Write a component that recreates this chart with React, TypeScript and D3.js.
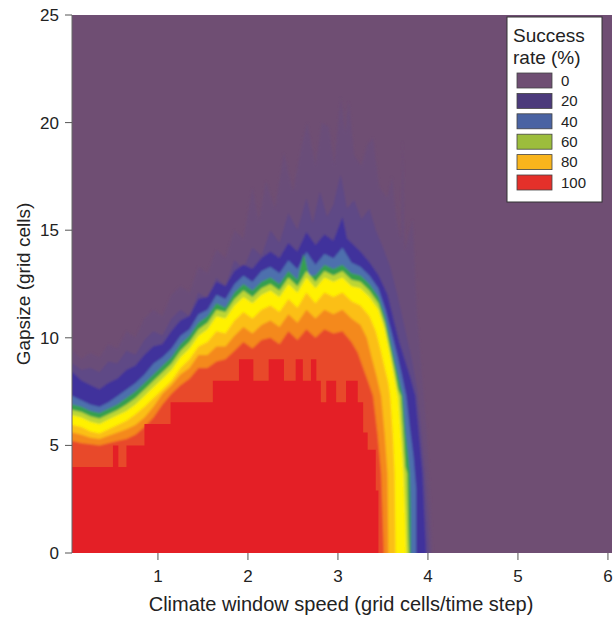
import React from 'react'
import * as d3 from 'd3'

// axis ticks
const xTicks = [1, 2, 3, 4, 5, 6]
const yTicks = [0, 5, 10, 15, 20, 25]

// legend
const legendLabels = ['0', '20', '40', '60', '80', '100']
const legendColors = ['#6f4e73', '#4b3a7b', '#4a63a3', '#9cbd3c', '#f8b41c', '#e4302a']

// contour levels (success rate %), drawn from the outside in
const levelValues = [3, 10, 20, 35, 50, 60, 70, 80, 90, 96]
const levelColors = ['#6a4d79', '#5e4886', '#40309c', '#4d6fad', '#36a04e', '#bcd536', '#fff100', '#fbbf19', '#f4891f', '#e84a2a']

// fronts: [speed, gapsize] where the success rate drops below each level
const front3 = [[0.05, 9.4], [0.15, 9.0], [0.25, 9.3], [0.35, 9.1], [0.45, 9.7], [0.55, 9.5], [0.65, 10.3], [0.75, 10.0], [0.85, 10.9], [0.95, 11.3], [1.05, 11.0], [1.15, 12.0], [1.25, 12.4], [1.35, 12.1], [1.45, 13.3], [1.55, 13.0], [1.65, 14.1], [1.75, 13.7], [1.85, 15.0], [1.95, 14.6], [2.05, 17.0], [2.12, 15.4], [2.2, 17.3], [2.3, 16.0], [2.4, 18.6], [2.5, 16.8], [2.6, 19.0], [2.66, 20.0], [2.75, 18.0], [2.82, 20.0], [2.9, 19.8], [2.96, 18.0], [3.03, 21.2], [3.08, 19.5], [3.12, 21.0], [3.18, 18.5], [3.26, 18.0], [3.33, 19.0], [3.39, 19.3], [3.46, 17.0], [3.55, 16.5], [3.6, 17.5], [3.65, 15.5], [3.7, 14.5], [3.72, 19.2], [3.74, 14.0], [3.83, 15.5], [3.88, 11.0], [3.93, 8.5], [3.98, 6.0], [4.02, 3.0], [4.05, 0]]
const front10 = [[0.05, 8.8], [0.15, 8.5], [0.25, 8.6], [0.35, 8.4], [0.45, 8.9], [0.55, 8.8], [0.65, 9.4], [0.75, 9.2], [0.85, 9.9], [0.95, 10.3], [1.05, 10.1], [1.15, 10.9], [1.25, 11.3], [1.35, 11.0], [1.45, 12.1], [1.55, 11.8], [1.65, 12.8], [1.75, 12.4], [1.85, 13.6], [1.95, 13.2], [2.05, 14.2], [2.15, 13.8], [2.25, 15.0], [2.35, 14.4], [2.45, 15.8], [2.55, 15.0], [2.65, 16.5], [2.72, 15.3], [2.8, 16.8], [2.88, 15.6], [2.95, 16.2], [3.03, 17.6], [3.1, 16.0], [3.18, 16.4], [3.26, 15.5], [3.35, 16.0], [3.42, 15.0], [3.5, 14.2], [3.58, 13.3], [3.66, 12.0], [3.74, 10.5], [3.82, 9.0], [3.88, 7.6], [3.93, 5.5], [3.97, 3.5], [4.0, 1.5], [4.02, 0]]
const front20 = [[0.05, 8.4], [0.15, 8.0], [0.25, 7.8], [0.35, 7.6], [0.45, 7.9], [0.55, 8.1], [0.65, 8.5], [0.75, 8.7], [0.85, 9.2], [0.95, 9.6], [1.05, 9.7], [1.15, 10.3], [1.25, 10.8], [1.35, 11.0], [1.45, 11.8], [1.55, 11.9], [1.65, 12.6], [1.75, 12.4], [1.85, 13.1], [1.95, 13.4], [2.05, 13.2], [2.15, 13.7], [2.25, 14.0], [2.35, 13.7], [2.45, 14.4], [2.55, 14.0], [2.65, 14.9], [2.75, 14.3], [2.85, 14.8], [2.95, 14.5], [3.05, 15.6], [3.1, 14.6], [3.15, 14.4], [3.25, 14.0], [3.35, 13.5], [3.45, 12.9], [3.55, 12.0], [3.62, 10.8], [3.68, 9.8], [3.74, 9.0], [3.8, 8.2], [3.86, 7.3], [3.9, 5.5], [3.94, 3.7], [3.96, 1.8], [3.98, 0]]
const front35 = [[0.05, 7.3], [0.15, 7.1], [0.25, 6.9], [0.35, 6.8], [0.45, 7.0], [0.55, 7.3], [0.65, 7.6], [0.75, 7.9], [0.85, 8.3], [0.95, 8.8], [1.05, 9.1], [1.15, 9.5], [1.25, 10.1], [1.35, 10.4], [1.45, 11.1], [1.55, 11.3], [1.65, 12.0], [1.75, 11.8], [1.85, 12.5], [1.95, 12.9], [2.05, 12.6], [2.15, 13.1], [2.25, 13.3], [2.35, 13.0], [2.45, 13.6], [2.55, 13.2], [2.65, 14.0], [2.75, 13.4], [2.85, 13.9], [2.95, 13.7], [3.05, 14.2], [3.15, 13.5], [3.25, 13.3], [3.35, 12.9], [3.45, 12.3], [3.53, 11.3], [3.6, 10.2], [3.66, 9.2], [3.71, 8.3], [3.76, 7.3], [3.8, 5.8], [3.84, 4.5], [3.87, 3.0], [3.87, 0]]
const front50 = [[0.05, 6.9], [0.15, 6.8], [0.25, 6.6], [0.35, 6.5], [0.45, 6.7], [0.55, 6.9], [0.65, 7.2], [0.75, 7.5], [0.85, 7.9], [0.95, 8.3], [1.05, 8.7], [1.15, 9.1], [1.25, 9.7], [1.35, 10.1], [1.45, 10.7], [1.55, 11.0], [1.65, 11.6], [1.75, 11.4], [1.85, 12.1], [1.95, 12.5], [2.05, 12.2], [2.15, 12.6], [2.25, 12.8], [2.35, 12.5], [2.45, 13.1], [2.55, 12.7], [2.62, 13.9], [2.68, 12.9], [2.75, 12.9], [2.85, 13.4], [2.95, 13.2], [3.05, 13.4], [3.15, 13.0], [3.25, 12.9], [3.35, 12.5], [3.45, 11.9], [3.52, 11.0], [3.58, 9.9], [3.63, 8.9], [3.68, 8.0], [3.72, 7.3], [3.75, 5.6], [3.78, 4.5], [3.8, 3.7], [3.81, 1.5], [3.81, 0]]
const front60 = [[0.05, 6.65], [0.15, 6.55], [0.25, 6.35], [0.35, 6.25], [0.45, 6.45], [0.55, 6.65], [0.65, 6.9], [0.75, 7.2], [0.85, 7.6], [0.95, 8.0], [1.05, 8.4], [1.15, 8.8], [1.25, 9.4], [1.35, 9.8], [1.45, 10.4], [1.55, 10.7], [1.65, 11.3], [1.75, 11.2], [1.85, 11.8], [1.95, 12.2], [2.05, 11.9], [2.15, 12.3], [2.25, 12.5], [2.35, 12.2], [2.45, 12.8], [2.55, 12.4], [2.65, 13.1], [2.75, 12.6], [2.85, 13.1], [2.95, 12.9], [3.05, 13.1], [3.15, 12.7], [3.25, 12.6], [3.35, 12.2], [3.45, 11.6], [3.52, 10.7], [3.58, 9.5], [3.63, 8.5], [3.67, 7.6], [3.7, 7.3], [3.73, 5.4], [3.75, 4.0], [3.77, 3.7], [3.78, 1.5], [3.79, 0]]
const front70 = [[0.05, 6.4], [0.15, 6.3], [0.25, 6.1], [0.35, 6.0], [0.45, 6.2], [0.55, 6.4], [0.65, 6.6], [0.75, 6.9], [0.85, 7.3], [0.95, 7.7], [1.05, 8.1], [1.15, 8.5], [1.25, 9.1], [1.35, 9.5], [1.45, 10.1], [1.55, 10.4], [1.65, 11.0], [1.75, 10.9], [1.85, 11.5], [1.95, 11.9], [2.05, 11.6], [2.15, 12.0], [2.25, 12.2], [2.35, 11.9], [2.45, 12.5], [2.55, 12.1], [2.65, 12.8], [2.75, 12.3], [2.85, 12.8], [2.95, 12.6], [3.05, 12.8], [3.15, 12.4], [3.25, 12.3], [3.35, 11.9], [3.45, 11.3], [3.52, 10.4], [3.58, 9.2], [3.63, 8.1], [3.67, 7.2], [3.7, 5.5], [3.73, 3.7], [3.75, 1.5], [3.76, 0]]
const front80 = [[0.05, 5.95], [0.15, 5.85], [0.25, 5.65], [0.35, 5.55], [0.45, 5.75], [0.55, 5.95], [0.65, 6.15], [0.75, 6.45], [0.85, 6.8], [0.95, 7.2], [1.05, 7.6], [1.15, 8.0], [1.25, 8.6], [1.35, 9.0], [1.45, 9.6], [1.55, 9.8], [1.65, 10.3], [1.75, 10.2], [1.85, 10.8], [1.95, 11.2], [2.05, 10.9], [2.15, 11.3], [2.25, 11.5], [2.35, 11.2], [2.45, 11.8], [2.55, 11.4], [2.65, 12.1], [2.75, 11.6], [2.85, 12.1], [2.95, 11.9], [3.05, 12.1], [3.15, 11.7], [3.25, 11.5], [3.35, 11.0], [3.42, 10.3], [3.47, 9.5], [3.52, 8.6], [3.56, 7.9], [3.58, 7.3], [3.61, 5.5], [3.63, 3.7], [3.64, 0]]
const front90 = [[0.05, 5.6], [0.15, 5.5], [0.25, 5.35], [0.35, 5.3], [0.45, 5.45], [0.55, 5.6], [0.65, 5.75], [0.75, 5.95], [0.85, 6.3], [0.95, 6.8], [1.05, 7.4], [1.15, 7.8], [1.25, 8.3], [1.35, 8.6], [1.45, 9.2], [1.55, 9.2], [1.65, 9.6], [1.75, 9.6], [1.85, 10.1], [1.95, 10.5], [2.05, 10.2], [2.15, 10.6], [2.25, 10.8], [2.35, 10.5], [2.45, 11.1], [2.55, 10.7], [2.65, 11.3], [2.75, 10.9], [2.85, 11.3], [2.95, 11.1], [3.05, 11.3], [3.15, 10.9], [3.25, 10.6], [3.32, 10.0], [3.38, 9.0], [3.43, 8.2], [3.48, 7.3], [3.52, 5.5], [3.55, 3.7], [3.56, 0]]
const front96 = [[0.05, 5.2], [0.15, 5.1], [0.25, 5.05], [0.35, 5.0], [0.45, 5.1], [0.55, 5.2], [0.65, 5.3], [0.75, 5.5], [0.85, 5.85], [0.95, 6.3], [1.05, 6.9], [1.15, 7.4], [1.25, 7.8], [1.35, 8.1], [1.45, 8.6], [1.55, 8.6], [1.65, 8.9], [1.75, 9.0], [1.85, 9.4], [1.95, 9.8], [2.05, 9.5], [2.15, 9.9], [2.25, 10.0], [2.35, 9.7], [2.45, 10.3], [2.55, 9.9], [2.65, 10.4], [2.75, 10.0], [2.85, 10.4], [2.95, 10.2], [3.05, 10.3], [3.15, 9.8], [3.22, 9.3], [3.28, 8.6], [3.34, 7.9], [3.39, 7.3], [3.44, 5.5], [3.48, 3.7], [3.51, 0]]
// 100% core, blocky (step after each speed)
const core100 = [[0.05, 4], [0.5, 5], [0.56, 4], [0.65, 5], [0.85, 6], [1.14, 7], [1.61, 8], [1.9, 9], [2.06, 8], [2.23, 9], [2.4, 8], [2.53, 9], [2.61, 8], [2.7, 9], [2.76, 8], [2.81, 7], [2.87, 8], [2.98, 7], [3.09, 8], [3.22, 7], [3.28, 5.6], [3.33, 4.8], [3.42, 2.9], [3.45, 0]]

const fronts = [front3, front10, front20, front35, front50, front60, front70, front80, front90, front96]

const W = 614
const H = 617
const FONT = '"Liberation Sans", Arial, Helvetica, sans-serif'

export default function App() {
  const x = d3.scaleLinear().domain([0.045, 6.045]).range([72, 612])
  const y = d3.scaleLinear().domain([0, 25]).range([553, 15])
  // a bit past the plot edges so the soft edges do not fade at the border
  const xOut = x.domain()[0] - 0.2
  const yOut = -1

  const line = d3.line<number[]>().x(d => x(d[0])).y(d => y(d[1]))
  const step = d3.line<number[]>().x(d => x(d[0])).y(d => y(d[1])).curve(d3.curveStepAfter)

  const region = (pts: number[][]) => {
    const last = pts[pts.length - 1]
    const poly = [[xOut, yOut], [xOut, pts[0][1]], ...pts, [last[0], yOut]]
    return line(poly) + 'Z'
  }
  const corePath = step([[xOut, yOut], [xOut, core100[0][1]], ...core100, [core100[core100.length - 1][0], yOut]]) + 'Z'

  const [left, right] = x.range()
  const [bottom, top] = y.range()

  return (
    <svg width={W} height={H} style={{ position: 'absolute', left: 0, top: 0, background: '#fff' }} fontFamily={FONT}>
      <defs>
        <clipPath id="plot">
          <rect x={left} y={top} width={right - left} height={bottom - top} />
        </clipPath>
        <filter id="soft" x="-5%" y="-5%" width="110%" height="110%">
          <feGaussianBlur stdDeviation="1" />
        </filter>
      </defs>
      <g clipPath="url(#plot)">
        <rect x={left} y={top} width={right - left} height={bottom - top} fill={legendColors[0]} />
        <g filter="url(#soft)">
          {fronts.map((f, i) => (
            <path key={levelValues[i]} d={region(f)} fill={levelColors[i]} />
          ))}
        </g>
        <path d={corePath} fill="#e41f26" />
      </g>

      {/* y axis */}
      <line x1={left} x2={left} y1={top} y2={bottom} stroke="#666" strokeWidth={1} />
      {yTicks.map(t => (
        <g key={t}>
          <line x1={left - 7} x2={left} y1={y(t)} y2={y(t)} stroke="#555" />
          <text x={left - 13} y={y(t)} dy="0.35em" textAnchor="end" fontSize={17} fill="#222">{t}</text>
        </g>
      ))}
      {/* x axis */}
      {xTicks.map(t => (
        <g key={t}>
          <line x1={x(t)} x2={x(t)} y1={bottom} y2={bottom + 7} stroke="#555" />
          <text x={x(t)} y={582} textAnchor="middle" fontSize={17} fill="#222">{t}</text>
        </g>
      ))}
      <text x={(left + right) / 2 - 1} y={611} textAnchor="middle" fontSize={20} fill="#222">
        Climate window speed (grid cells/time step)
      </text>
      <text transform={`translate(30,${(top + bottom) / 2}) rotate(-90)`} textAnchor="middle" fontSize={19} fill="#222">
        Gapsize (grid cells)
      </text>

      {/* legend */}
      <g>
        <rect x={507} y={17} width={95} height={185} fill="#fff" stroke="#333" strokeWidth={1} />
        <text x={513} y={42} fontSize={19} fill="#222">Success</text>
        <text x={513} y={64} fontSize={19} fill="#222">rate (%)</text>
        {legendLabels.map((l, i) => (
          <g key={l}>
            <rect x={517} y={73 + i * 20.4} width={35} height={15} fill={legendColors[i]} stroke="#444" strokeWidth={0.8} />
            <text x={561} y={73 + i * 20.4 + 7.5} dy="0.35em" fontSize={15} fill="#222">{l}</text>
          </g>
        ))}
      </g>
    </svg>
  )
}
